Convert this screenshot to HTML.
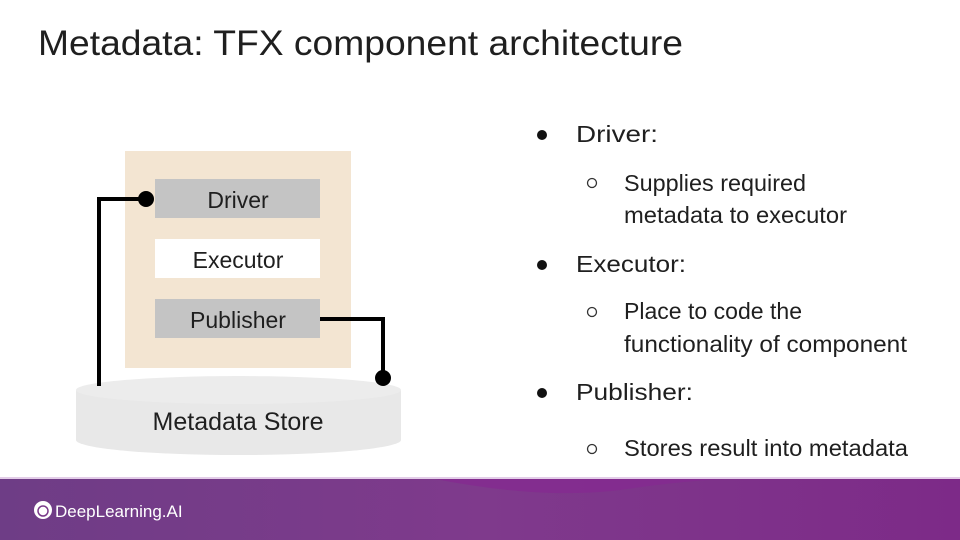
<!DOCTYPE html>
<html><head><meta charset="utf-8"><style>
html,body{margin:0;padding:0;background:#fff}
svg{display:block}
text{font-family:"Liberation Sans",sans-serif;fill:#1f1f1f}
</style></head><body>
<svg width="960" height="540" viewBox="0 0 960 540" xmlns="http://www.w3.org/2000/svg">
<defs>
<linearGradient id="g" x1="0" x2="1" y1="0" y2="0">
<stop offset="0" stop-color="#6e3d86"/><stop offset="0.5" stop-color="#7f3a8c"/><stop offset="1" stop-color="#7d2a88"/>
</linearGradient>
</defs>
<rect width="960" height="540" fill="#fff"/>
<text x="38" y="55" font-size="35" textLength="645" lengthAdjust="spacingAndGlyphs">Metadata: TFX component architecture</text>

<rect x="125" y="151" width="226" height="217" fill="#f3e5d2"/>
<rect x="155" y="179" width="165" height="39" fill="#c4c4c4"/>
<rect x="155" y="239" width="165" height="39" fill="#fff"/>
<rect x="155" y="299" width="165" height="39" fill="#c4c4c4"/>
<text x="238" y="208" font-size="23" text-anchor="middle">Driver</text>
<text x="238" y="268" font-size="23" text-anchor="middle">Executor</text>
<text x="238" y="328" font-size="23" text-anchor="middle">Publisher</text>

<path d="M76 390 L76 440 A162 15 0 0 0 401 440 L401 390 Z" fill="#e8e8e8"/>
<ellipse cx="238.5" cy="390" rx="162.5" ry="14" fill="#ececec"/>
<text x="238" y="430" font-size="25" text-anchor="middle">Metadata Store</text>

<polyline points="99,386 99,199 146,199" fill="none" stroke="#000" stroke-width="4"/>
<circle cx="146" cy="199" r="8" fill="#000"/>
<polyline points="320,319 383,319 383,378" fill="none" stroke="#000" stroke-width="4"/>
<circle cx="383" cy="378" r="8" fill="#000"/>

<g font-size="23">
<circle cx="542" cy="135" r="5" fill="#111"/>
<text x="576" y="142" textLength="82" lengthAdjust="spacingAndGlyphs">Driver:</text>
<circle cx="592" cy="183" r="4.5" fill="none" stroke="#333" stroke-width="1.3"/>
<text x="624" y="191" textLength="182" lengthAdjust="spacingAndGlyphs">Supplies required</text>
<text x="624" y="223" textLength="223" lengthAdjust="spacingAndGlyphs">metadata to executor</text>
<circle cx="542" cy="265" r="5" fill="#111"/>
<text x="576" y="272" textLength="110" lengthAdjust="spacingAndGlyphs">Executor:</text>
<circle cx="592" cy="312" r="4.5" fill="none" stroke="#333" stroke-width="1.3"/>
<text x="624" y="319" textLength="178" lengthAdjust="spacingAndGlyphs">Place to code the</text>
<text x="624" y="352" textLength="283" lengthAdjust="spacingAndGlyphs">functionality of component</text>
<circle cx="542" cy="393" r="5" fill="#111"/>
<text x="576" y="400" textLength="117" lengthAdjust="spacingAndGlyphs">Publisher:</text>
<circle cx="592" cy="449" r="4.5" fill="none" stroke="#333" stroke-width="1.3"/>
<text x="624" y="456" textLength="284" lengthAdjust="spacingAndGlyphs">Stores result into metadata</text>
</g>

<rect x="0" y="478" width="960" height="62" fill="url(#g)"/>
<path d="M430 478 Q540 500 620 490 Q700 478 760 478 Z" fill="#852a90" opacity="0.8"/>
<rect x="0" y="477" width="960" height="2" fill="#e3cde8"/>
<circle cx="43" cy="510" r="9" fill="#fff"/>
<circle cx="43" cy="511" r="5" fill="none" stroke="#7a3a8a" stroke-width="1.5"/>
<text x="55" y="517" font-size="17" style="fill:#fff">DeepLearning.AI</text>
</svg>
</body></html>
